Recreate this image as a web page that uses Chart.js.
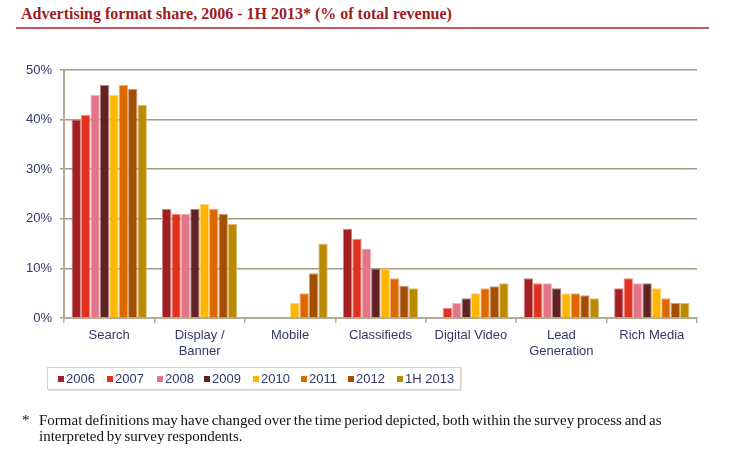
<!DOCTYPE html>
<html>
<head>
<meta charset="utf-8">
<script src="https://cdn.jsdelivr.net/npm/chart.js@4.4.0/dist/chart.umd.min.js"></script>
<style>
  html, body { margin: 0; padding: 0; background: #fff; }
  #wrap { position: relative; width: 738px; height: 466px; overflow: hidden; }
  #chartBox { position: absolute; left: 0; top: 0; width: 738px; height: 466px; }
  #title { position: absolute; left: 21px; top: 5px; font: bold 16px/18px "Liberation Serif", serif; color: #9E1B20; white-space: nowrap; }
  #rule { position: absolute; left: 16px; top: 27px; width: 693px; height: 2px; background: #C55A5A; }
  #legend { position: absolute; left: 47px; top: 367px; width: 414px; height: 23px; border: 1px solid #D6D2CA; box-shadow: 1px 1px 0 #E6E3DD; box-sizing: border-box; }
  .li { position: absolute; top: 3px; font: 13px "Liberation Sans", Arial, sans-serif; color: #34386A; white-space: nowrap; line-height: 16px; }
  .sw { display: inline-block; width: 6px; height: 6px; margin-right: 2px; vertical-align: 1px; }
  .fn { position: absolute; font: 15px/16px "Liberation Serif", serif; color: #111; white-space: nowrap; word-spacing: -1px; }
</style>
</head>
<body>
<div id="wrap">
  <div id="title">Advertising format share, 2006 - 1H 2013* (% of total revenue)</div>
  <div id="rule"></div>
  <div id="chartBox"><canvas id="c" width="738" height="466"></canvas></div>
  <div id="legend"></div>
  <div class="fn" style="left:22px; top:412px;">*</div>
  <div class="fn" style="left:39px; top:412px;">Format definitions may have changed over the time period depicted, both within the survey process and as</div>
  <div class="fn" style="left:39px; top:428px;">interpreted by survey respondents.</div>
</div>
<script>
const categories = ["Search", ["Display /", "Banner"], "Mobile", "Classifieds", "Digital Video", ["Lead", "Generation"], "Rich Media"];
const seriesNames = ["2006", "2007", "2008", "2009", "2010", "2011", "2012", "1H 2013"];
const seriesColors = ["#A31F23", "#E0301E", "#E27588", "#602320", "#FFB600", "#DC6900", "#A34E00", "#BC8A00"];
const v2006  = [40, 22, 0, 18, 0, 8, 6];
const v2007  = [41, 21, 0, 16, 2, 7, 8];
const v2008  = [45, 21, 0, 14, 3, 7, 7];
const v2009  = [47, 22, 0, 10, 4, 6, 7];
const v2010  = [45, 23, 3, 10, 5, 5, 6];
const v2011  = [47, 22, 5, 8, 6, 5, 4];
const v2012  = [46.2, 21, 9, 6.5, 6.4, 4.6, 3];
const v1H2013 = [43, 19, 15, 6, 7, 4, 3];
const yTicks = [0, 10, 20, 30, 40, 50];

const seriesValues = [v2006, v2007, v2008, v2009, v2010, v2011, v2012, v1H2013];

function lighten(hex, f) {
  const n = parseInt(hex.slice(1), 16);
  let r = (n >> 16) & 255, g = (n >> 8) & 255, b = n & 255;
  r = Math.round(r + (255 - r) * f); g = Math.round(g + (255 - g) * f); b = Math.round(b + (255 - b) * f);
  return `rgb(${r},${g},${b})`;
}

const datasets = seriesNames.map((name, i) => ({
  label: name,
  data: seriesValues[i],
  backgroundColor: seriesColors[i],
  borderColor: lighten(seriesColors[i], 0.45),
  borderWidth: ctx => (ctx.raw ? 1 : 0),
  borderSkipped: 'bottom',
  barPercentage: 1.0,
  categoryPercentage: 0.833
}));

// HTML legend built from series arrays
const leg = document.getElementById('legend');
const legX = [10, 59, 109, 156, 205, 253, 300, 349];
seriesNames.forEach((name, i) => {
  const d = document.createElement('div');
  d.className = 'li';
  d.style.left = legX[i] + 'px';
  d.innerHTML = `<span class="sw" style="background:${seriesColors[i]}"></span>${name}`;
  leg.appendChild(d);
});

const axisColor = '#B3AB93';
const gridColor = '#A39B84';
const labelColor = '#34386A';

new Chart(document.getElementById('c'), {
  type: 'bar',
  data: { labels: categories, datasets },
  options: {
    responsive: false,
    animation: false,
    devicePixelRatio: 1,
    layout: { padding: { left: 0, top: 70, right: 41, bottom: 108 } },
    plugins: { legend: { display: false }, tooltip: { enabled: false }, title: { display: false } },
    scales: {
      x: {
        offset: true,
        grid: { display: true, drawOnChartArea: false, drawTicks: true, tickLength: 5, color: axisColor, lineWidth: 1.5, offset: true },
        border: { display: true, color: axisColor, width: 2 },
        ticks: { color: labelColor, font: { family: '"Liberation Sans", Arial, sans-serif', size: 13 }, padding: 5, maxRotation: 0, autoSkip: false },
        afterFit: s => { s.height = 40; }
      },
      y: {
        min: 0, max: 50,
        afterBuildTicks: s => { s.ticks = yTicks.map(v => ({ value: v })); },
        grid: { color: gridColor, lineWidth: 1.5, tickLength: 4, drawTicks: true },
        border: { display: true, color: axisColor, width: 2 },
        ticks: { color: labelColor, font: { family: '"Liberation Sans", Arial, sans-serif', size: 13 }, padding: 8, callback: v => v + '%' },
        afterFit: s => { s.width = 64; }
      }
    }
  }
});
</script>
</body>
</html>
